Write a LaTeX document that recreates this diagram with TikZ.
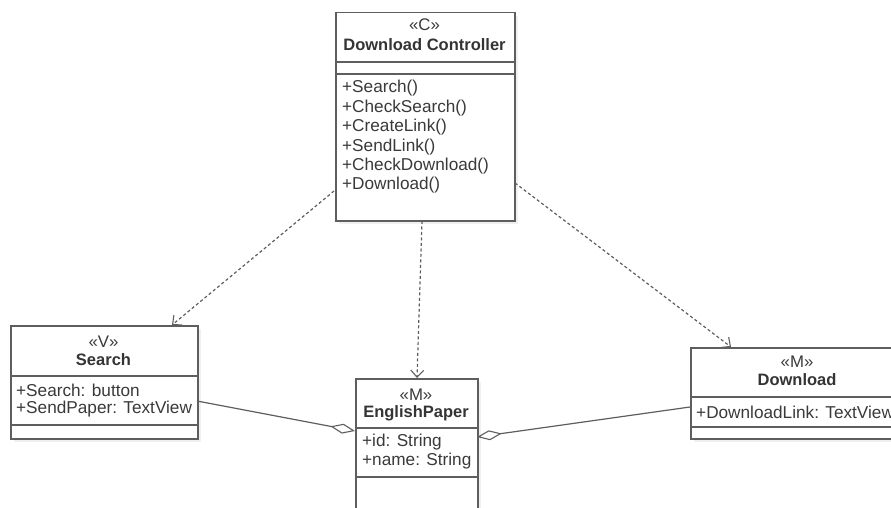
\documentclass[tikz,border=0pt]{standalone}
\usepackage{fontspec}
\setmainfont{Liberation Sans}
\usetikzlibrary{arrows.meta}
\definecolor{umlline}{HTML}{5E5E5E}
\definecolor{umltext}{HTML}{3A3A3A}
\definecolor{umlshadow}{HTML}{F0F0F0}
\begin{document}
\begin{tikzpicture}[x=1pt,y=-1pt,
  classbox/.style={draw=umlline, line width=1.5pt, fill=white, rectangle, inner sep=0pt, anchor=north west},
  shadowbox/.style={fill=umlshadow, draw=none, rectangle, inner sep=0pt, anchor=north west},
  divider/.style={draw=umlline, line width=1.5pt},
  stereo/.style={text=umltext, inner sep=0pt, font=\fontsize{16.8}{19}\selectfont},
  title/.style={text=umltext!90!black, inner sep=0pt, font=\fontsize{16.5}{19}\selectfont\bfseries},
  member/.style={text=umltext, inner sep=0pt, anchor=west, font=\fontsize{17.2}{19}\selectfont},
  dep/.style={draw=umlline, line width=1.2pt, dash pattern=on 3pt off 2.5pt, -{Straight Barb[length=7pt,width=13pt,line width=1.1pt]}},
  agg/.style={draw=umlline, line width=1.2pt, -{Diamond[open,length=25pt,width=10pt,line width=1.1pt]}}
]
\useasboundingbox (0,0) rectangle (891,508);
\clip (0,0) rectangle (891,508);
\fill[white] (0,0) rectangle (891,508);

% shadows
\node[shadowbox, minimum width=179pt, minimum height=208pt] (dcs) at (339,16) {};
\node[shadowbox, minimum width=187pt, minimum height=113pt] (ss) at (14,329) {};
\node[shadowbox, minimum width=122pt, minimum height=150pt] (eps) at (359,382) {};
\node[shadowbox, minimum width=215pt, minimum height=91pt] (dls) at (694,351) {};

% Download Controller
\node[classbox, minimum width=179pt, minimum height=208pt] (dc) at (335,12) {};
\draw[divider] (335,62) -- (514,62);
\draw[divider] (335,74) -- (514,74);
\node[stereo] (dcst) at (424.5,25) {«C»};
\node[title] (dctt) at (424.5,45) {Download Controller};
\node[member] (dcm1) at (342,88) {+Search()};
\node[member] (dcm2) at (342,108) {+CheckSearch()};
\node[member] (dcm3) at (342,127.5) {+CreateLink()};
\node[member] (dcm4) at (342,147) {+SendLink()};
\node[member] (dcm5) at (342,166.5) {+CheckDownload()};
\node[member] (dcm6) at (342,185) {+Download()};

% Search
\node[classbox, minimum width=187pt, minimum height=113pt] (sr) at (10,325) {};
\draw[divider] (10,376) -- (197,376);
\draw[divider] (10,425) -- (197,425);
\node[stereo] (srst) at (103.5,342) {«V»};
\node[title] (srtt) at (103.5,360) {Search};
\node[member] (sra1) at (16,390) {+Search: button};
\node[member] (sra2) at (16,409) {+SendPaper: TextView};

% EnglishPaper
\node[classbox, minimum width=122pt, minimum height=150pt] (ep) at (355,378) {};
\draw[divider] (355,428) -- (477,428);
\draw[divider] (355,477) -- (477,477);
\node[stereo] (epst) at (416,395) {«M»};
\node[title] (eptt) at (416,413) {EnglishPaper};
\node[member] (epa1) at (362,442) {+id: String};
\node[member] (epa2) at (362,461) {+name: String};

% Download
\node[classbox, minimum width=215pt, minimum height=91pt] (dl) at (690,347) {};
\draw[divider] (690,397) -- (905,397);
\draw[divider] (690,427) -- (905,427);
\node[stereo] (dlst) at (797,362) {«M»};
\node[title] (dltt) at (797,380) {Download};
\node[member] (dla1) at (696,412) {+DownloadLink: TextView};

% connector end points
\coordinate (d1s) at (334,191);
\coordinate (d1e) at (172,325);
\coordinate (d2s) at (422,221);
\coordinate (d2e) at (417,378);
\coordinate (d3s) at (515,183);
\coordinate (d3e) at (731,347);
\coordinate (a1s) at (197,401);
\coordinate (a1e) at (355,431);
\coordinate (a2s) at (690,407);
\coordinate (a2e) at (477,437);

\draw[dep] (d1s) -- (d1e);
\draw[dep] (d2s) -- (d2e);
\draw[dep] (d3s) -- (d3e);
\draw[agg] (a1s) -- (a1e);
\draw[agg] (a2s) -- (a2e);
\end{tikzpicture}
\end{document}
